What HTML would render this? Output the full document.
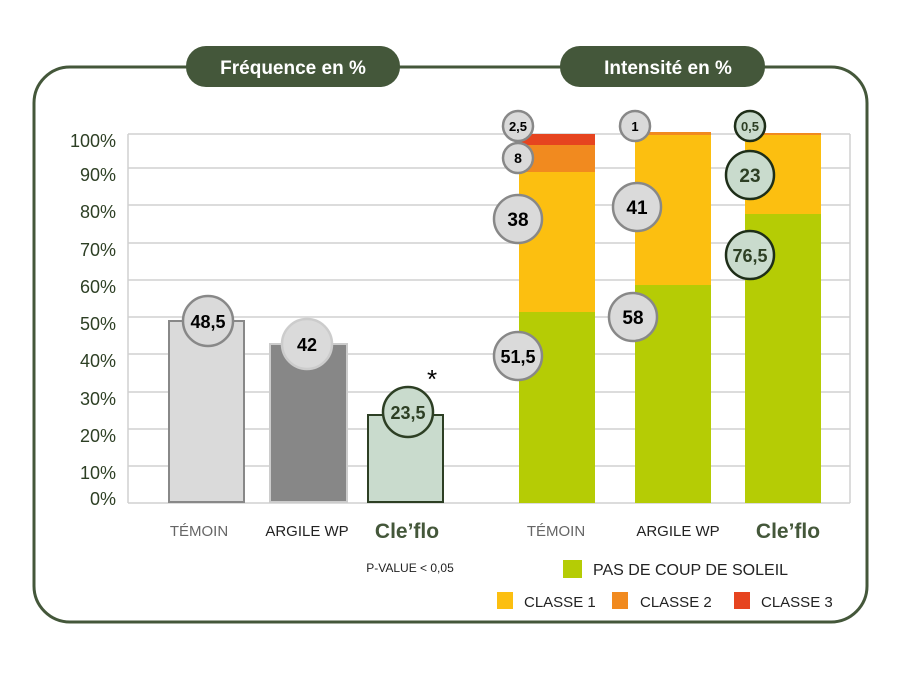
<!DOCTYPE html>
<html><head><meta charset="utf-8"><style>body{margin:0;background:#fff}</style></head><body>
<svg width="900" height="675" xmlns="http://www.w3.org/2000/svg" font-family="Liberation Sans, sans-serif">
<rect x="34" y="67" width="833" height="555" rx="36" fill="#fff" stroke="#44573a" stroke-width="3"/>
<rect x="186" y="46" width="214" height="41" rx="20" fill="#44573a"/>
<text x="293" y="74" text-anchor="middle" fill="#fff" font-size="19" font-weight="bold">Fréquence en %</text>
<rect x="560" y="46" width="205" height="41" rx="20" fill="#44573a"/>
<text x="668" y="74" text-anchor="middle" fill="#fff" font-size="19" font-weight="bold">Intensité en %</text>
<g stroke="#d0d0d0" stroke-width="1.5">
<line x1="128" y1="134" x2="850" y2="134"/><line x1="128" y1="168" x2="850" y2="168"/>
<line x1="128" y1="205" x2="850" y2="205"/><line x1="128" y1="243" x2="850" y2="243"/>
<line x1="128" y1="280" x2="850" y2="280"/><line x1="128" y1="317" x2="850" y2="317"/>
<line x1="128" y1="354" x2="850" y2="354"/><line x1="128" y1="392" x2="850" y2="392"/>
<line x1="128" y1="429" x2="850" y2="429"/><line x1="128" y1="466" x2="850" y2="466"/>
<line x1="128" y1="503" x2="850" y2="503"/>
<line x1="128" y1="134" x2="128" y2="503"/><line x1="850" y1="134" x2="850" y2="503"/>
</g>
<g fill="#2d3f24" font-size="18" text-anchor="end">
<text x="116" y="147">100%</text><text x="116" y="181">90%</text><text x="116" y="218">80%</text>
<text x="116" y="256">70%</text><text x="116" y="293">60%</text><text x="116" y="330">50%</text>
<text x="116" y="367">40%</text><text x="116" y="405">30%</text><text x="116" y="442">20%</text>
<text x="116" y="479">10%</text><text x="116" y="505">0%</text>
</g>
<rect x="169" y="321" width="75" height="181" fill="#dadada" stroke="#888" stroke-width="2"/>
<rect x="270" y="344" width="77" height="158" fill="#878787" stroke="#ccc" stroke-width="2"/>
<rect x="368" y="415" width="75" height="87" fill="#c9dbcd" stroke="#2d3f24" stroke-width="2"/>
<g stroke-width="2.5">
<circle cx="208" cy="321" r="25" fill="#dadada" stroke="#888"/>
<circle cx="307" cy="344" r="25" fill="#dadada" stroke="#ccc"/>
<circle cx="408" cy="412" r="25" fill="#c9dbcd" stroke="#2d3f24"/>
</g>
<g font-size="18" font-weight="bold" text-anchor="middle">
<text x="208" y="328">48,5</text><text x="307" y="351">42</text>
<text x="408" y="419" fill="#2d3f24">23,5</text>
</g>
<text x="432" y="388" font-size="26" text-anchor="middle">*</text>
<!-- stacked -->
<rect x="519" y="312" width="76" height="191" fill="#b5cc05"/>
<rect x="519" y="172" width="76" height="140" fill="#fcbf10"/>
<rect x="519" y="145" width="76" height="27" fill="#f18a1f"/>
<rect x="519" y="134" width="76" height="11" fill="#e6441f"/>
<rect x="635" y="285" width="76" height="218" fill="#b5cc05"/>
<rect x="635" y="135" width="76" height="150" fill="#fcbf10"/>
<rect x="635" y="132" width="76" height="3" fill="#f18a1f"/>
<rect x="745" y="214" width="76" height="289" fill="#b5cc05"/>
<rect x="745" y="135" width="76" height="79" fill="#fcbf10"/>
<rect x="745" y="133" width="76" height="2" fill="#f18a1f"/>
<g stroke-width="2.5" fill="#dadada" stroke="#888">
<circle cx="518" cy="126" r="15"/><circle cx="518" cy="158" r="15"/>
<circle cx="518" cy="219" r="24"/><circle cx="518" cy="356" r="24"/>
<circle cx="635" cy="126" r="15"/><circle cx="637" cy="207" r="24"/><circle cx="633" cy="317" r="24"/>
</g>
<g stroke-width="2.5" fill="#c9dbcd" stroke="#1e2e18">
<circle cx="750" cy="126" r="15"/><circle cx="750" cy="175" r="24"/><circle cx="750" cy="255" r="24"/>
</g>
<g font-weight="bold" text-anchor="middle">
<text x="518" y="131" font-size="13">2,5</text><text x="518" y="163" font-size="14">8</text>
<text x="518" y="226" font-size="19">38</text><text x="518" y="363" font-size="18">51,5</text>
<text x="635" y="131" font-size="13">1</text><text x="637" y="214" font-size="19">41</text>
<text x="633" y="324" font-size="19">58</text>
<g fill="#2d3f24"><text x="750" y="131" font-size="13">0,5</text><text x="750" y="182" font-size="19">23</text>
<text x="750" y="262" font-size="18">76,5</text></g>
</g>
<g font-size="15" text-anchor="middle">
<text x="199" y="536" fill="#666">TÉMOIN</text>
<text x="307" y="536" fill="#222">ARGILE WP</text>
<text x="407" y="538" fill="#44573a" font-size="21" font-weight="bold">Cle’flo</text>
<text x="556" y="536" fill="#666">TÉMOIN</text>
<text x="678" y="536" fill="#222">ARGILE WP</text>
<text x="788" y="538" fill="#44573a" font-size="21" font-weight="bold">Cle’flo</text>
</g>
<text x="410" y="572" font-size="12" text-anchor="middle" fill="#222">P-VALUE &lt; 0,05</text>
<rect x="563" y="560" width="19" height="18" fill="#b5cc05"/>
<text x="593" y="575" font-size="16" fill="#222">PAS DE COUP DE SOLEIL</text>
<rect x="497" y="592" width="16" height="17" fill="#fcbf10"/>
<text x="524" y="607" font-size="15" fill="#222">CLASSE 1</text>
<rect x="612" y="592" width="16" height="17" fill="#f18a1f"/>
<text x="640" y="607" font-size="15" fill="#222">CLASSE 2</text>
<rect x="734" y="592" width="16" height="17" fill="#e6441f"/>
<text x="761" y="607" font-size="15" fill="#222">CLASSE 3</text>
</svg>
</body></html>
